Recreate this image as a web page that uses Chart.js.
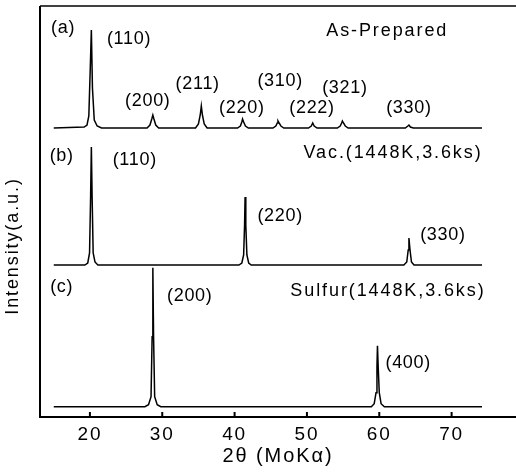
<!DOCTYPE html>
<html>
<head>
<meta charset="utf-8">
<script src="https://cdn.jsdelivr.net/npm/chart.js@4.4.1/dist/chart.umd.min.js"></script>
<style>
  html, body { margin: 0; padding: 0; background: #fff; }
  #wrap { width: 516px; height: 474px; }
</style>
</head>
<body>
<div id="wrap"><canvas id="xrd"></canvas></div>
<script>
// 2theta (deg) and intensity (a.u., above each pattern's own baseline)
// (a) As-Prepared
const asPrepAngle = [15.0, 19.2, 19.6, 19.85, 20.05, 20.2, 20.35, 20.6, 21.0, 21.6,
  27.9, 28.3, 28.55, 28.7, 28.85, 29.1, 29.5,
  34.6, 35.0, 35.25, 35.4, 35.55, 35.8, 36.2,
  40.4, 40.8, 41.0, 41.1, 41.25, 41.5, 41.9,
  45.3, 45.7, 45.9, 46.0, 46.15, 46.4, 46.8,
  50.2, 50.6, 50.8, 51.0, 51.4,
  54.2, 54.6, 54.8, 54.9, 55.05, 55.3, 55.7,
  63.6, 63.95, 64.1, 64.3, 64.7, 74.2];
const asPrepInt = [0, 1, 3, 12, 60, 98, 40, 8, 2, 0,
  0, 3, 9, 13, 9, 3, 0,
  0, 4, 13, 22, 13, 4, 0,
  0, 2, 6, 9, 6, 2, 0,
  0, 2, 5, 7, 5, 2, 0,
  0, 2, 5, 2, 0,
  0, 2, 5, 7, 5, 2, 0,
  0, 2, 3, 1, 0, 0];

// (b) Vac.(1448K,3.6ks)
const vacAngle = [15.0, 19.3, 19.7, 19.95, 20.1, 20.2, 20.3, 20.45, 20.7, 21.1,
  40.6, 41.0, 41.25, 41.38, 41.45, 41.55, 41.7, 41.95, 42.3,
  63.4, 63.8, 64.0, 64.1, 64.25, 64.45, 64.8, 74.2];
const vacInt = [0, 0, 2, 12, 70, 118, 70, 12, 3, 0,
  0, 2, 10, 40, 68, 40, 10, 2, 0,
  0, 3, 15, 27, 15, 3, 0, 0];

// (c) Sulfur(1448K,3.6ks)
const sulfAngle = [15.0, 27.6, 28.1, 28.45, 28.6, 28.7, 28.8, 28.95, 29.3, 29.8,
  58.9, 59.3, 59.55, 59.68, 59.75, 59.85, 60.0, 60.25, 60.7, 74.2];
const sulfInt = [0, 0, 2, 10, 70, 139, 70, 10, 2, 0,
  0, 3, 14, 40, 61, 40, 14, 3, 0, 0];

const xTicks = [20, 30, 40, 50, 60, 70];

// vertical stacking of the three patterns
const offsets = { a: 289, b: 152, c: 10.3 };

function toPoints(angles, ints, off) {
  return angles.map((t, i) => ({ x: t, y: ints[i] + off }));
}

// labels placed in data coordinates; wide = long sample captions
const labels = [
  { t: '(a)', x: 16.3, y: 389 },
  { t: '(110)', x: 25.4, y: 378 },
  { t: 'As-Prepared', x: 61.1, y: 386, wide: true },
  { t: '(200)', x: 28.0, y: 316 },
  { t: '(211)', x: 34.9, y: 333 },
  { t: '(220)', x: 41.0, y: 309 },
  { t: '(310)', x: 46.3, y: 336 },
  { t: '(222)', x: 50.7, y: 309 },
  { t: '(321)', x: 55.25, y: 329 },
  { t: '(330)', x: 64.1, y: 309 },
  { t: '(b)', x: 16.1, y: 261 },
  { t: '(110)', x: 26.2, y: 257 },
  { t: 'Vac.(1448K,3.6ks)', x: 61.9, y: 264, wide: true },
  { t: '(220)', x: 46.3, y: 201 },
  { t: '(330)', x: 68.8, y: 182 },
  { t: '(c)', x: 16.1, y: 130 },
  { t: '(200)', x: 33.8, y: 121 },
  { t: 'Sulfur(1448K,3.6ks)', x: 61.2, y: 126, wide: true },
  { t: '(400)', x: 64.0, y: 54 }
];

const FONT = "'Liberation Sans', Arial, sans-serif";

const framePlugin = {
  id: 'frame',
  beforeUpdate(chart) { chart.ctx.letterSpacing = '1.9px'; },
  beforeDraw(chart) { chart.ctx.letterSpacing = '1.9px'; },
  afterDraw(chart) {
    const { ctx, chartArea: a, scales } = chart;
    const x = scales.x, y = scales.y;
    ctx.save();
    ctx.strokeStyle = '#000';
    ctx.lineWidth = 1.5;
    ctx.beginPath();
    ctx.moveTo(a.right, a.top);
    ctx.lineTo(a.left, a.top);
    ctx.stroke();
    ctx.lineWidth = 2;
    ctx.beginPath();
    ctx.moveTo(a.left, a.top);
    ctx.lineTo(a.left, a.bottom);
    ctx.lineTo(a.right, a.bottom);
    x.ticks.forEach(tk => {
      const px = x.getPixelForValue(tk.value);
      ctx.moveTo(px, a.bottom);
      ctx.lineTo(px, a.bottom - 5);
    });
    ctx.stroke();

    ctx.fillStyle = '#000';
    ctx.font = '18px ' + FONT;
    ctx.textAlign = 'center';
    ctx.textBaseline = 'middle';
    labels.forEach(l => {
      ctx.letterSpacing = l.wide ? '1.9px' : '0.7px';
      ctx.fillText(l.t, x.getPixelForValue(l.x), y.getPixelForValue(l.y));
    });

    // y axis caption, sits a bit below the middle of the frame
    ctx.letterSpacing = '1.9px';
    ctx.translate(13.5, 246);
    ctx.rotate(-Math.PI / 2);
    ctx.fillText('Intensity(a.u.)', 0, 0);
    ctx.restore();
  }
};

const lineStyle = { borderColor: '#000', borderWidth: 1.5, pointRadius: 0, tension: 0, fill: false };

new Chart(document.getElementById('xrd'), {
  type: 'line',
  data: {
    datasets: [
      Object.assign({ label: 'As-Prepared', data: toPoints(asPrepAngle, asPrepInt, offsets.a) }, lineStyle),
      Object.assign({ label: 'Vac.(1448K,3.6ks)', data: toPoints(vacAngle, vacInt, offsets.b) }, lineStyle),
      Object.assign({ label: 'Sulfur(1448K,3.6ks)', data: toPoints(sulfAngle, sulfInt, offsets.c) }, lineStyle)
    ]
  },
  options: {
    responsive: true,
    maintainAspectRatio: false,
    animation: false,
    layout: { padding: { left: 40, right: 0, top: 6, bottom: 0 } },
    plugins: { legend: { display: false }, tooltip: { enabled: false } },
    scales: {
      x: {
        type: 'linear',
        min: 13.1,
        max: 78.9,
        afterBuildTicks: s => { s.ticks = xTicks.map(v => ({ value: v })); },
        grid: { display: false, drawTicks: false },
        border: { display: false },
        ticks: { color: '#000', font: { family: FONT, size: 19, lineHeight: 1 }, padding: 8, maxRotation: 0 },
        title: {
          display: true,
          text: '2θ (MoKα)',
          color: '#000',
          font: { family: FONT, size: 20, lineHeight: 1 },
          padding: { top: -6, bottom: 8 }
        }
      },
      y: {
        display: false,
        min: 0,
        max: 411
      }
    }
  },
  plugins: [framePlugin]
});
</script>
</body>
</html>
